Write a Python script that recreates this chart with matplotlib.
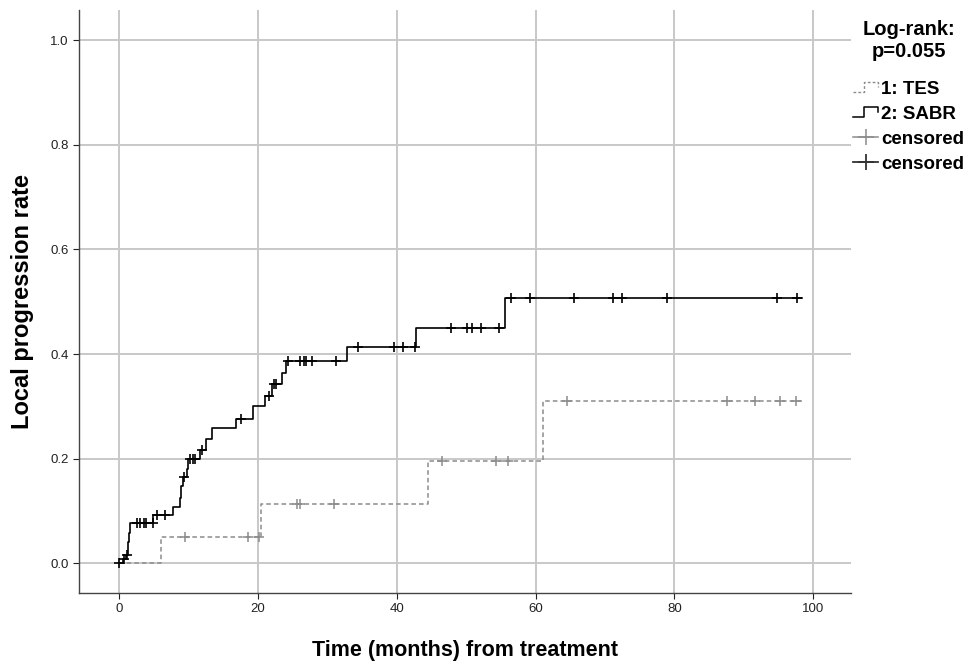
import numpy as np
import matplotlib
matplotlib.use("Agg")
import matplotlib.pyplot as plt
from matplotlib.lines import Line2D
from matplotlib.legend_handler import HandlerBase

plt.rcParams['font.family'] = ['Liberation Sans', 'DejaVu Sans']

# ---- data ----
sabr_times = [0, 0.6, 1.0, 1.3, 1.5, 1.7, 5.0, 7.85, 8.8, 9.0, 9.3, 9.8, 10.0,
              11.7, 12.6, 13.4, 16.9, 19.3, 21.05, 22.0, 23.45, 24.1, 32.8,
              42.8, 55.6]
sabr_values = [0, 0.008, 0.016, 0.04, 0.058, 0.077, 0.093, 0.108, 0.125, 0.147,
               0.165, 0.18, 0.199, 0.217, 0.238, 0.259, 0.276, 0.300, 0.319,
               0.342, 0.364, 0.386, 0.414, 0.450, 0.507]
sabr_end = 98.3
sabr_censored = [0.1, 0.8, 1.15, 2.6, 3.0, 3.6, 3.9, 4.9, 5.5, 6.7, 9.4, 10.2,
                 10.7, 11.0, 12.0, 17.6, 21.7, 22.3, 22.7, 24.4, 26.1, 26.7,
                 27.0, 27.8, 31.3, 34.5, 39.7, 40.9, 42.6, 47.8, 50.1, 50.8,
                 52.2, 54.7, 56.5, 59.2, 65.5, 71.1, 72.5, 78.9, 94.7, 97.6]

tes_times = [0, 6.1, 20.5, 44.5, 61.1]
tes_values = [0, 0.05, 0.113, 0.195, 0.31]
tes_end = 98.3
tes_censored = [9.5, 18.6, 20.2, 25.7, 26.1, 31.0, 46.5, 54.3, 56.0, 64.5,
                87.5, 91.6, 95.2, 97.5]

legend_title = "Log-rank:\np=0.055"
legend_labels = ["1: TES", "2: SABR", "censored", "censored"]
x_ticks = [0, 20, 40, 60, 80, 100]
y_ticks = [0.0, 0.2, 0.4, 0.6, 0.8, 1.0]

TES_COLOR = "#8c8c8c"
SABR_COLOR = "#000000"


def step_xy(times, values, end):
    xs = list(times) + [end]
    ys = list(values) + [values[-1]]
    return xs, ys


def value_at(times, values, t):
    idx = np.searchsorted(times, t, side='right') - 1
    return np.asarray(values)[idx]


fig = plt.figure(figsize=(9.73, 6.67), dpi=100)
ax = fig.add_axes([0.0815, 0.111, 0.793, 0.874])

xs, ys = step_xy(tes_times, tes_values, tes_end)
ax.step(xs, ys, where='post', color=TES_COLOR, lw=1.1, ls=(0, (3, 2)), zorder=3)
ax.plot(tes_censored, value_at(tes_times, tes_values, tes_censored), ls='none',
        marker='+', ms=7.5, mew=1.1, color=TES_COLOR, zorder=4)

xs, ys = step_xy(sabr_times, sabr_values, sabr_end)
ax.step(xs, ys, where='post', color=SABR_COLOR, lw=1.2, zorder=5)
ax.plot(sabr_censored, value_at(sabr_times, sabr_values, sabr_censored), ls='none',
        marker='+', ms=7.5, mew=1.2, color=SABR_COLOR, zorder=6)

ax.set_xlim(-5.67, 105.4)
ax.set_ylim(-0.057, 1.058)
ax.set_xticks(x_ticks)
ax.set_yticks(y_ticks)
ax.set_yticklabels([f"{v:.1f}" for v in y_ticks])
ax.grid(True, color='#c8c8c8', lw=1.4)
ax.set_axisbelow(True)
for s in ['top', 'right']:
    ax.spines[s].set_visible(False)
for s in ['left', 'bottom']:
    ax.spines[s].set_color('#444444')
    ax.spines[s].set_linewidth(1.0)
ax.tick_params(axis='both', labelsize=9.5, colors='#222222', length=4, width=0.8)

ax.set_xlabel("Time (months) from treatment", fontsize=15.5, fontweight='bold', labelpad=18)
ax.set_ylabel("Local progression rate", fontsize=17, fontweight='bold', labelpad=12)


class StepHandler(HandlerBase):
    def __init__(self, color, ls, lw):
        super().__init__()
        self.color, self.ls, self.lw = color, ls, lw

    def create_artists(self, legend, orig_handle, xdescent, ydescent, width,
                       height, fontsize, trans):
        x0 = -xdescent
        y0 = -ydescent
        xs = [x0, x0 + 0.45 * width, x0 + 0.45 * width, x0 + width, x0 + width]
        ys = [y0 + 0.1 * height, y0 + 0.1 * height, y0 + 0.9 * height,
              y0 + 0.9 * height, y0 + 0.5 * height]
        ln = Line2D(xs, ys, color=self.color, ls=self.ls, lw=self.lw)
        ln.set_transform(trans)
        return [ln]


h_tes = Line2D([], [], color=TES_COLOR)
h_sabr = Line2D([], [], color=SABR_COLOR)
h_c1 = Line2D([], [], color=TES_COLOR, marker='+', ms=12, mew=1.1, lw=1.1)
h_c2 = Line2D([], [], color='#333333', marker='+', ms=12, mew=1.3, lw=1.3)

leg = fig.legend([h_tes, h_sabr, h_c1, h_c2], legend_labels,
                 loc='upper left', bbox_to_anchor=(0.8767, 0.970),
                 frameon=False, prop={'weight': 'bold', 'size': 13.5},
                 title=legend_title,
                 title_fontproperties={'weight': 'bold', 'size': 14.5},
                 handlelength=1.35, handletextpad=0.15, labelspacing=0.42,
                 borderaxespad=0, borderpad=0.0,
                 handler_map={h_tes: StepHandler(TES_COLOR, (0, (2, 1.5)), 1.0),
                              h_sabr: StepHandler(SABR_COLOR, '-', 1.1)})
leg._legend_box.align = "center"
leg._legend_box.sep = 14
leg.get_title().set_multialignment('center')

fig.savefig("out.png", dpi=100)
